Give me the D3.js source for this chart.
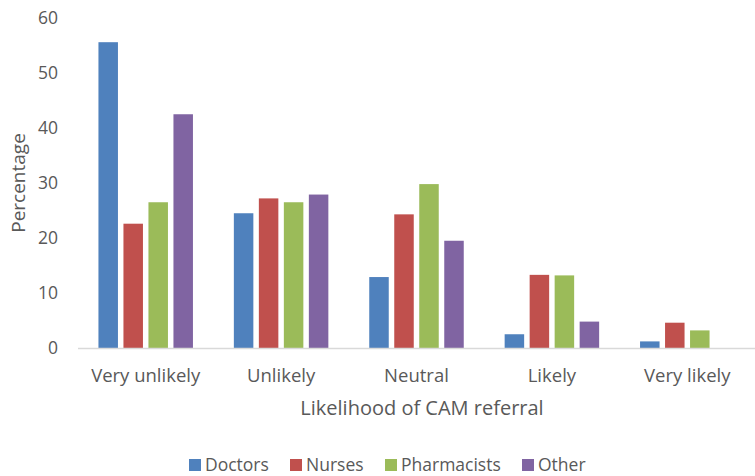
<!DOCTYPE html>
<html>
<head>
<meta charset="utf-8">
<script src="https://cdn.jsdelivr.net/npm/d3@7"></script>
<style>
  body { margin: 0; background: #fff; }
  text { font-family: "Open Sans", "DejaVu Sans", sans-serif; fill: #595959; }
</style>
</head>
<body>
<script>
var width = 755
var height = 476

var categories = ['Very unlikely', 'Unlikely', 'Neutral', 'Likely', 'Very likely']
var seriesNames = ['Doctors', 'Nurses', 'Pharmacists', 'Other']
var doctors = [55.6, 24.5, 12.9, 2.5, 1.2]
var nurses = [22.6, 27.2, 24.3, 13.3, 4.6]
var pharmacists = [26.5, 26.5, 29.8, 13.2, 3.2]
var other = [42.5, 27.9, 19.5, 4.8, 0]
var yTicks = [0, 10, 20, 30, 40, 50, 60]
var colours = ['#4F81BD', '#C0504D', '#9BBB59', '#8064A2']

var seriesValues = [doctors, nurses, pharmacists, other]

var svg = d3.select('body').append('svg')
  .attr('width', width)
  .attr('height', height)

var x0 = d3.scaleBand().domain(categories).range([78, 755])
var x1 = d3.scaleBand().domain(seriesNames)
  .range([x0.bandwidth() / 2 - 50, x0.bandwidth() / 2 + 50])
  .paddingInner(0.22)
  .paddingOuter(0.11)
var y = d3.scaleLinear().domain([0, 60]).range([348, 18])

// y tick labels
svg.append('g')
  .selectAll('text')
  .data(yTicks)
  .enter()
  .append('text')
  .attr('x', 58)
  .attr('y', function (d) { return y(d) })
  .attr('dy', '0.35em')
  .attr('text-anchor', 'end')
  .style('font-size', '17.5px')
  .text(function (d) { return d })

// bars
var groups = svg.append('g')
  .selectAll('g')
  .data(categories)
  .enter()
  .append('g')
  .attr('transform', function (d) { return 'translate(' + x0(d) + ',0)' })

groups.selectAll('rect')
  .data(function (d, i) {
    return seriesNames.map(function (s, j) { return { key: s, value: seriesValues[j][i], idx: j } })
  })
  .enter()
  .append('rect')
  .attr('x', function (d) { return x1(d.key) })
  .attr('width', x1.bandwidth())
  .attr('y', function (d) { return y(d.value) })
  .attr('height', function (d) { return y(0) - y(d.value) })
  .attr('fill', function (d) { return colours[d.idx] })

// x axis line
svg.append('line')
  .attr('x1', 78).attr('x2', 755)
  .attr('y1', y(0) + 0.5).attr('y2', y(0) + 0.5)
  .attr('stroke', '#D9D9D9')
  .attr('stroke-width', 1.5)

// category labels
svg.append('g')
  .selectAll('text')
  .data(categories)
  .enter()
  .append('text')
  .attr('x', function (d) { return x0(d) + x0.bandwidth() / 2 })
  .attr('y', 376)
  .attr('dy', '0.35em')
  .attr('text-anchor', 'middle')
  .style('font-size', '18.5px')
  .text(function (d) { return d })

// axis titles
svg.append('text')
  .attr('x', 422)
  .attr('y', 408)
  .attr('dy', '0.35em')
  .attr('text-anchor', 'middle')
  .style('font-size', '20px')
  .text('Likelihood of CAM referral')

svg.append('text')
  .attr('transform', 'translate(18,183) rotate(-90)')
  .attr('dy', '0.35em')
  .attr('text-anchor', 'middle')
  .style('font-size', '19px')
  .text('Percentage')

// legend
var legendX = [189, 290, 385, 522]
var legend = svg.append('g')
  .selectAll('g')
  .data(seriesNames)
  .enter()
  .append('g')
  .attr('transform', function (d, i) { return 'translate(' + legendX[i] + ',465)' })

legend.append('rect')
  .attr('x', 0).attr('y', -6)
  .attr('width', 12).attr('height', 12)
  .attr('fill', function (d, i) { return colours[i] })

legend.append('text')
  .attr('x', 16)
  .attr('dy', '0.35em')
  .style('font-size', '17.5px')
  .text(function (d) { return d })
</script>
</body>
</html>
